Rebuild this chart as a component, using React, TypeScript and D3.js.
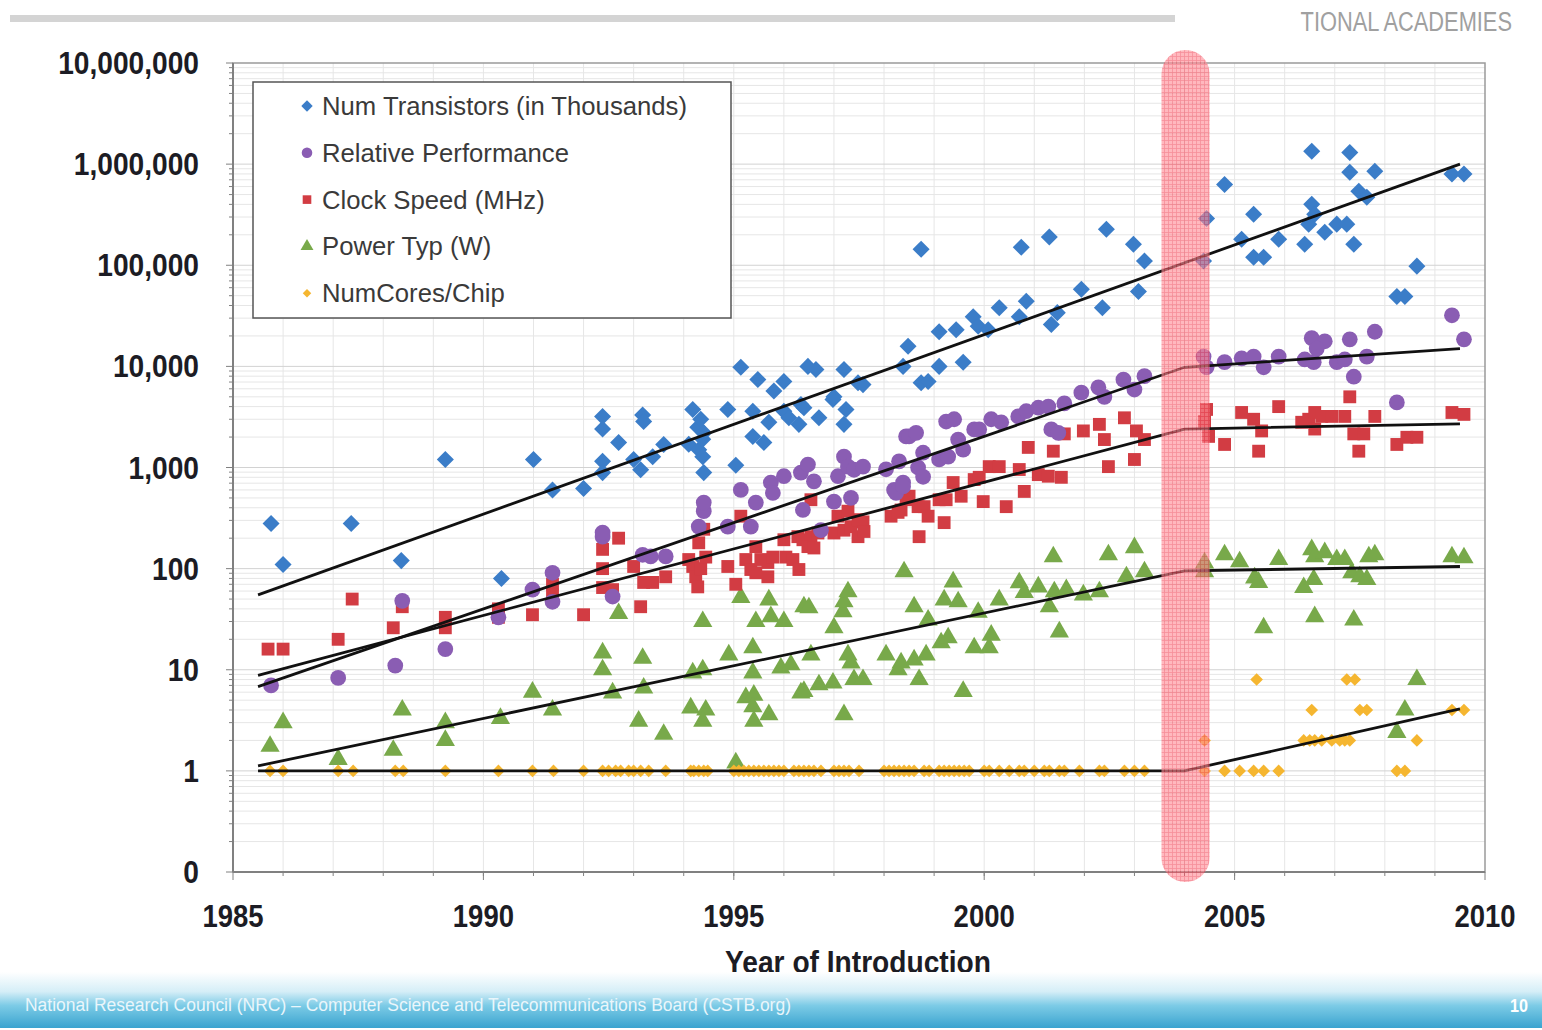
import React from 'react';
import * as d3 from 'd3';

// values: [year, value]
const transistors = [
  [1985.76, 280], [1986.0, 110], [1987.36, 280], [1988.36, 120], [1989.24, 1200], [1990.36, 80], [1991.0, 1200], [1991.38, 600], [1992.0, 620],
  [1992.38, 3200], [1992.38, 2400], [1992.38, 1150], [1992.38, 890], [1992.7, 1770], [1993.0, 1200], [1993.14, 950], [1993.18, 3300], [1993.2, 2850], [1993.38, 1280], [1993.6, 1690],
  [1994.1, 1700], [1994.18, 3750], [1994.28, 2500], [1994.3, 1500], [1994.34, 3000], [1994.38, 1900], [1994.38, 1280], [1994.4, 890], [1994.4, 2200], [1994.88, 3750],
  [1995.04, 1050], [1995.14, 9800], [1995.38, 3600], [1995.38, 2030], [1995.48, 7400], [1995.6, 1770], [1995.7, 2800], [1995.8, 5700],
  [1996.0, 3600], [1996.0, 7100], [1996.1, 3100], [1996.3, 2670], [1996.34, 4200], [1996.4, 3900], [1996.48, 10000], [1996.64, 9300], [1996.7, 3100],
  [1996.98, 4700], [1997.0, 5000], [1997.2, 9300], [1997.24, 3750], [1997.2, 2670], [1997.48, 6900], [1997.58, 6600],
  [1998.38, 10000], [1998.48, 15800], [1998.74, 144000], [1998.74, 6900], [1998.88, 7100], [1999.1, 22000], [1999.1, 10000], [1999.44, 23000], [1999.58, 11000], [1999.78, 31000], [1999.88, 25000],
  [2000.08, 23000], [2000.3, 38000], [2000.7, 31000], [2000.74, 151000], [2000.84, 44000], [2001.3, 190000], [2001.34, 26000], [2001.46, 34000], [2001.94, 58000],
  [2002.36, 38000], [2002.44, 227000], [2002.98, 161000], [2003.08, 55000], [2003.2, 110000],
  [2004.38, 110000], [2004.44, 290000], [2004.8, 630000], [2005.14, 181000], [2005.38, 320000], [2005.38, 120000], [2005.58, 120000], [2005.88, 181000],
  [2006.4, 161000], [2006.48, 255000], [2006.54, 1340000], [2006.54, 400000], [2006.6, 320000], [2006.8, 212000], [2007.04, 255000], [2007.24, 255000],
  [2007.3, 1300000], [2007.3, 830000], [2007.38, 161000], [2007.48, 540000], [2007.64, 470000], [2007.8, 850000], [2008.24, 49000], [2008.4, 49000], [2008.64, 98000],
  [2009.34, 800000], [2009.58, 800000],
];

const performance = [
  [1985.76, 7], [1987.1, 8.3], [1988.24, 11], [1988.38, 48], [1989.24, 16], [1990.3, 33], [1990.98, 62], [1991.38, 91], [1991.38, 47],
  [1992.38, 207], [1992.38, 227], [1992.58, 53], [1993.18, 137], [1993.34, 132], [1993.64, 132],
  [1994.3, 260], [1994.4, 370], [1994.4, 450], [1994.88, 260], [1995.14, 600], [1995.34, 260], [1995.44, 450], [1995.74, 710], [1995.78, 560],
  [1996.0, 820], [1996.34, 890], [1996.38, 380], [1996.48, 1070], [1996.6, 730], [1996.74, 240], [1997.0, 460], [1997.08, 820], [1997.2, 1280], [1997.28, 1020], [1997.34, 500], [1997.4, 950], [1997.58, 1020],
  [1998.04, 960], [1998.2, 600], [1998.24, 560], [1998.3, 1150], [1998.38, 710], [1998.38, 650], [1998.44, 2030], [1998.5, 2030], [1998.64, 2200], [1998.68, 1000], [1998.78, 1400], [1998.78, 810],
  [1999.1, 1200], [1999.28, 1280], [1999.24, 2850], [1999.4, 3000], [1999.48, 1890], [1999.58, 1500], [1999.8, 2380], [1999.9, 2380], [2000.14, 3000], [2000.34, 2800],
  [2000.68, 3200], [2000.84, 3600], [2001.08, 3900], [2001.28, 4000], [2001.6, 4300], [2001.34, 2380], [2001.48, 2200], [2001.94, 5500], [2002.28, 6200], [2002.4, 5000],
  [2002.78, 7400], [2003.0, 5900], [2003.2, 8000],
  [2004.38, 12500], [2004.44, 9800], [2004.8, 11000], [2005.14, 12000], [2005.38, 12500], [2005.58, 9800], [2005.88, 12500], [2006.4, 11700], [2006.58, 11000],
  [2006.54, 19000], [2006.8, 17700], [2006.64, 15000], [2007.04, 11000], [2007.2, 11700], [2007.3, 18500], [2007.38, 7900], [2007.64, 12500], [2007.8, 22000],
  [2008.24, 4400], [2009.34, 32000], [2009.58, 18500],
];

const clockSpeed = [
  [1985.7, 16], [1986.0, 16], [1987.1, 20], [1987.38, 50], [1988.2, 26], [1988.38, 42], [1989.24, 33], [1989.24, 26], [1990.3, 33], [1990.3, 40], [1990.98, 35], [1991.38, 70], [1991.38, 55], [1992.0, 35],
  [1992.38, 155], [1992.38, 100], [1992.38, 65], [1992.58, 62], [1992.7, 200], [1993.0, 105], [1993.14, 42], [1993.2, 73], [1993.38, 73], [1993.64, 83],
  [1994.1, 123], [1994.18, 105], [1994.24, 83], [1994.3, 180], [1994.34, 100], [1994.28, 66], [1994.4, 245], [1994.44, 130], [1994.88, 105], [1995.04, 70], [1995.14, 330],
  [1995.24, 123], [1995.34, 98], [1995.44, 165], [1995.54, 123], [1995.44, 91], [1995.68, 115], [1995.78, 130], [1995.68, 83], [1996.0, 193], [1996.04, 130], [1996.18, 123], [1996.3, 98],
  [1996.28, 207], [1996.38, 193], [1996.54, 207], [1996.68, 225], [1996.48, 165], [1996.6, 160], [1996.54, 480], [1997.0, 225], [1997.2, 240], [1997.34, 260], [1997.08, 330], [1997.28, 370],
  [1997.48, 305], [1997.58, 290], [1997.48, 207], [1997.6, 233],
  [1998.14, 330], [1998.34, 380], [1998.5, 520], [1998.28, 360], [1998.38, 560], [1998.44, 480], [1998.68, 410], [1998.8, 410], [1998.88, 330], [1998.7, 207], [1999.2, 285], [1999.1, 480],
  [1999.24, 480], [1999.38, 710], [1999.54, 520], [1999.8, 760], [1999.9, 800], [2000.1, 1020], [2000.3, 1020], [1999.98, 460], [2000.44, 410], [2000.7, 955], [2000.8, 580], [2000.88, 1580],
  [2001.08, 850], [2001.28, 820], [2001.54, 800], [2001.38, 1450], [2001.6, 2150], [2001.98, 2300], [2002.3, 2670], [2002.4, 1890], [2002.48, 1020], [2002.8, 3100], [2003.04, 2300], [2003.2, 1890], [2003.0, 1200],
  [2004.44, 3750], [2004.4, 2850], [2004.48, 2030], [2004.8, 1690], [2005.14, 3500], [2005.38, 3000], [2005.54, 2300], [2005.48, 1450], [2005.88, 4000], [2006.34, 2800], [2006.48, 3000],
  [2006.6, 3500], [2006.74, 3200], [2006.94, 3200], [2007.2, 3200], [2006.6, 2400], [2007.3, 5000], [2007.38, 2150], [2007.58, 2150], [2007.48, 1450], [2007.8, 3200],
  [2008.24, 1690], [2008.44, 1990], [2008.64, 1990], [2009.34, 3500], [2009.58, 3350],
];

const power = [
  [1985.74, 1.75], [1986.0, 3.0], [1987.1, 1.3], [1988.2, 1.6], [1988.38, 4.0], [1989.24, 3.0], [1989.24, 2.0], [1990.34, 3.3], [1990.98, 6.0], [1991.38, 4.0],
  [1992.38, 14.7], [1992.38, 10], [1992.58, 5.9], [1992.7, 36], [1993.1, 3.1], [1993.18, 13], [1993.2, 6.6], [1993.6, 2.3], [1994.14, 4.2], [1994.18, 9.3],
  [1994.38, 10], [1994.38, 30], [1994.44, 4.0], [1994.38, 3.1], [1994.9, 14], [1995.04, 1.2],
  [1995.14, 52], [1995.24, 5.3], [1995.4, 5.6], [1995.38, 4.3], [1995.4, 3.1], [1995.7, 3.6], [1995.7, 49], [1995.38, 16.5], [1995.38, 9.3], [1995.44, 30], [1995.74, 33.5], [1996.0, 30],
  [1995.94, 10.4], [1996.14, 11.2], [1996.4, 42], [1996.5, 41], [1996.34, 5.9], [1996.4, 6.1], [1996.7, 7.1], [1996.98, 7.4], [1996.54, 14], [1997.0, 26],
  [1997.18, 37.6], [1997.2, 47], [1997.28, 59], [1997.28, 14], [1997.34, 11.7], [1997.4, 8], [1997.58, 8], [1997.2, 3.6],
  [1998.04, 14], [1998.28, 10], [1998.34, 11.7], [1998.6, 12.5], [1998.7, 8], [1998.4, 93], [1998.6, 42], [1998.84, 14], [1998.88, 31], [1999.14, 18.5], [1999.28, 20.7],
  [1999.38, 74], [1999.2, 49], [1999.48, 47], [1999.58, 6.1], [1999.8, 16.5], [2000.1, 16.5], [2000.14, 22], [1999.88, 37], [2000.3, 49], [2000.7, 72.5], [2000.8, 58],
  [2001.08, 66], [2001.38, 131], [2001.3, 42], [2001.5, 23.7], [2001.4, 59], [2001.64, 62], [2001.98, 55], [2002.3, 59], [2002.48, 137], [2002.84, 83], [2003.0, 161], [2003.2, 93],
  [2004.4, 114], [2004.4, 93], [2004.8, 137], [2005.1, 117], [2005.4, 81], [2005.48, 73], [2005.58, 26], [2005.88, 123], [2006.54, 154], [2006.6, 131], [2006.8, 144],
  [2006.38, 65], [2006.58, 78], [2006.6, 33.5], [2007.04, 123], [2007.2, 123], [2007.34, 91], [2007.5, 83], [2007.64, 78], [2007.68, 131], [2007.8, 137], [2007.38, 31],
  [2008.24, 2.4], [2008.4, 4.0], [2008.64, 8.0], [2009.34, 131], [2009.58, 128],
];

const singleCoreYears = [
  1985.74, 1986.0, 1987.1, 1987.4, 1988.24, 1988.4, 1989.24, 1990.3, 1990.98, 1991.4, 1992.0, 1992.38, 1992.5, 1992.64, 1992.74, 1992.9, 1993.0, 1993.14, 1993.3, 1993.64,
  1994.14, 1994.2, 1994.3, 1994.4, 1994.48, 1995.0, 1995.1, 1995.2, 1995.3, 1995.4, 1995.5, 1995.6, 1995.7, 1995.8, 1995.9, 1996.0, 1996.2, 1996.3, 1996.4, 1996.5, 1996.6, 1996.74,
  1997.0, 1997.1, 1997.2, 1997.3, 1997.5, 1998.0, 1998.1, 1998.2, 1998.3, 1998.4, 1998.5, 1998.6, 1998.8, 1998.9, 1999.1, 1999.2, 1999.3, 1999.4, 1999.5, 1999.6, 1999.7,
  2000.0, 2000.1, 2000.3, 2000.5, 2000.7, 2000.8, 2001.0, 2001.2, 2001.3, 2001.5, 2001.6, 2001.9, 2002.3, 2002.4, 2002.8, 2003.0, 2003.2,
];
const multiCore = [
  [2004.4, 2], [2004.4, 1], [2004.8, 1], [2005.1, 1], [2005.38, 1], [2005.58, 1], [2005.88, 1], [2005.44, 8], [2006.38, 2], [2006.5, 2], [2006.6, 2], [2006.74, 2], [2006.54, 4],
  [2006.94, 2], [2007.1, 2], [2007.2, 2], [2007.3, 2], [2007.24, 8], [2007.4, 8], [2007.5, 4], [2007.64, 4], [2008.24, 1], [2008.4, 1], [2008.64, 2], [2009.34, 4], [2009.58, 4],
];
const cores = [...singleCoreYears.map(y => [y, 1]), ...multiCore];

// fitted trend lines
const transistorTrend = [[1985.5, 55], [2009.5, 1000000]];
const performanceTrend = [[1985.5, 6.8], [2004.0, 9800], [2009.5, 15000]];
const clockTrend = [[1985.5, 8.8], [2004.0, 2400], [2009.5, 2700]];
const powerTrend = [[1985.5, 1.12], [2004.0, 95], [2009.5, 105]];
const coresTrend = [[1985.5, 1], [2004.0, 1], [2009.5, 4.1]];

const yTicks = [0.1, 1, 10, 100, 1000, 10000, 100000, 1000000, 10000000];
const xTicks = [1985, 1990, 1995, 2000, 2005, 2010];

const legendItems = [
  { label: 'Num Transistors (in Thousands)', color: '#3b7dc8', shape: 'diamond' },
  { label: 'Relative Performance', color: '#8a5db3', shape: 'circle' },
  { label: 'Clock Speed (MHz)', color: '#d23c43', shape: 'square' },
  { label: 'Power Typ (W)', color: '#78a94a', shape: 'triangle' },
  { label: 'NumCores/Chip', color: '#f5b630', shape: 'smalldiamond' },
];

const FONT = '"Liberation Sans", Arial, sans-serif';

const x = d3.scaleLinear().domain([1985, 2010]).range([233, 1485]);
const y = d3.scaleLog().domain([0.1, 10000000]).range([872, 63]);

const symbolPath = (shape, scale = 1) => {
  if (shape === 'circle') return d3.symbol(d3.symbolCircle, 195 * scale)();
  if (shape === 'square') return d3.symbol(d3.symbolSquare, 165 * scale)();
  if (shape === 'triangle') return d3.symbol(d3.symbolTriangle, 160 * scale)();
  if (shape === 'smalldiamond') return d3.symbol(d3.symbolSquare, 80 * scale)();
  return d3.symbol(d3.symbolSquare, 145 * scale)();
};
const rot = shape => (shape === 'diamond' || shape === 'smalldiamond' ? ' rotate(45)' : '');

const T = ({ x: tx, y: ty, size, sx = 1, anchor = 'start', weight = 'normal', fill = '#222', children }) => (
  <text
    transform={`translate(${tx},${ty}) scale(${sx},1)`}
    textAnchor={anchor}
    fontFamily={FONT}
    fontSize={size}
    fontWeight={weight}
    fill={fill}
  >
    {children}
  </text>
);

const Scatter = ({ data, shape, color }) => {
  const d = symbolPath(shape);
  return (
    <g>
      {data.map((p, i) => (
        <path key={i} d={d} fill={color} transform={`translate(${x(p[0])},${y(p[1])})${rot(shape)}`} />
      ))}
    </g>
  );
};

const line = d3.line().x(d => x(d[0])).y(d => y(d[1]));

export default function App() {
  const minor = [];
  for (let e = -1; e < 7; e++) {
    for (let m = 2; m <= 9; m++) minor.push(m * Math.pow(10, e));
  }
  const years = d3.range(1986, 2010);
  const fmt = v => (v < 1 ? '0' : d3.format(',')(v));

  return (
    <svg width={1542} height={1030} style={{ position: 'absolute', left: 0, top: 0, background: '#fff' }}>
      <defs>
        <linearGradient id="footer" x1="0" y1="0" x2="0" y2="1">
          <stop offset="0%" stopColor="#ffffff" />
          <stop offset="35%" stopColor="#d5eef7" />
          <stop offset="60%" stopColor="#7ccbe6" />
          <stop offset="100%" stopColor="#3aa3cf" />
        </linearGradient>
        <pattern id="hatch" width="4" height="4" patternUnits="userSpaceOnUse">
          <rect width="4" height="4" fill="#ff8d96" />
          <path d="M0 0.5H4M0.5 0V4" stroke="#f04a5a" strokeWidth="0.8" />
        </pattern>
      </defs>

      {/* header */}
      <rect x={10} y={15} width={1165} height={7} fill="#d4d4d4" />
      <T x={1512} y={31} size={28} sx={0.78} anchor="end" fill="#a0a0a0">TIONAL ACADEMIES</T>

      {/* grid */}
      <g stroke="#e6e6e6" strokeWidth={1}>
        {minor.map(v => (
          <line key={v} x1={x(1985)} x2={x(2010)} y1={y(v)} y2={y(v)} />
        ))}
        {years.map(yr => (
          <line key={yr} x1={x(yr)} x2={x(yr)} y1={y(1e7)} y2={y(0.1)} />
        ))}
      </g>
      <g stroke="#d2d2d2" strokeWidth={1}>
        {yTicks.slice(1, -1).map(v => (
          <line key={v} x1={x(1985)} x2={x(2010)} y1={y(v)} y2={y(v)} />
        ))}
      </g>

      {/* frame and axes */}
      <rect x={x(1985)} y={y(1e7)} width={x(2010) - x(1985)} height={y(0.1) - y(1e7)} fill="none" stroke="#9a9a9a" strokeWidth={1.5} />
      <line x1={x(1985)} x2={x(1985)} y1={y(1e7)} y2={y(0.1)} stroke="#808080" strokeWidth={2} />
      <line x1={x(1985)} x2={x(2010)} y1={y(0.1)} y2={y(0.1)} stroke="#808080" strokeWidth={2} />
      <g stroke="#808080" strokeWidth={1}>
        {yTicks.map(v => (
          <line key={v} x1={x(1985) - 7} x2={x(1985)} y1={y(v)} y2={y(v)} />
        ))}
        {minor.map(v => (
          <line key={v} x1={x(1985) - 4} x2={x(1985)} y1={y(v)} y2={y(v)} />
        ))}
        {xTicks.map(v => (
          <line key={v} x1={x(v)} x2={x(v)} y1={y(0.1)} y2={y(0.1) + 8} />
        ))}
        {years.map(v => (
          <line key={v} x1={x(v)} x2={x(v)} y1={y(0.1)} y2={y(0.1) + 4} />
        ))}
      </g>
      {yTicks.map(v => (
        <T key={v} x={199} y={y(v) + 11} size={32} sx={0.88} anchor="end" weight="bold" fill="#1c1c24">{fmt(v)}</T>
      ))}
      {xTicks.map(v => (
        <T key={v} x={x(v)} y={927} size={32} sx={0.86} anchor="middle" weight="bold" fill="#1c1c24">{String(v)}</T>
      ))}
      <T x={858} y={973} size={32} sx={0.88} anchor="middle" weight="bold" fill="#1c1c24">Year of Introduction</T>

      {/* points */}
      <Scatter data={power} shape="triangle" color="#78a94a" />
      <Scatter data={clockSpeed} shape="square" color="#d23c43" />
      <Scatter data={performance} shape="circle" color="#8a5db3" />
      <Scatter data={transistors} shape="diamond" color="#3b7dc8" />
      <Scatter data={cores} shape="smalldiamond" color="#f5b630" />

      {/* trends */}
      <g fill="none" stroke="#111" strokeWidth={2.8}>
        {[transistorTrend, performanceTrend, clockTrend, powerTrend, coresTrend].map((t, i) => (
          <path key={i} d={line(t)} />
        ))}
      </g>

      {/* 2004 band */}
      <rect x={x(2003.54)} y={50} width={x(2004.5) - x(2003.54)} height={832} rx={24} fill="url(#hatch)" opacity={0.62} />

      {/* legend */}
      <rect x={253} y={82} width={478} height={236} fill="#fff" stroke="#555" strokeWidth={1.5} />
      {legendItems.map((it, i) => (
        <g key={it.label}>
          <path d={symbolPath(it.shape, 0.45)} fill={it.color} transform={`translate(307,${106 + i * 46.8})${rot(it.shape)}`} />
          <T x={322} y={115 + i * 46.8} size={25.7} fill="#3a3a3a">{it.label}</T>
        </g>
      ))}

      {/* footer */}
      <rect x={0} y={972} width={1542} height={56} fill="url(#footer)" />
      <T x={25} y={1011} size={19} sx={0.92} fill="#eaf6fb">National Research Council (NRC) – Computer Science and Telecommunications Board (CSTB.org)</T>
      <T x={1528} y={1012} size={19} sx={0.85} anchor="end" weight="bold" fill="#ffffff">10</T>
    </svg>
  );
}
